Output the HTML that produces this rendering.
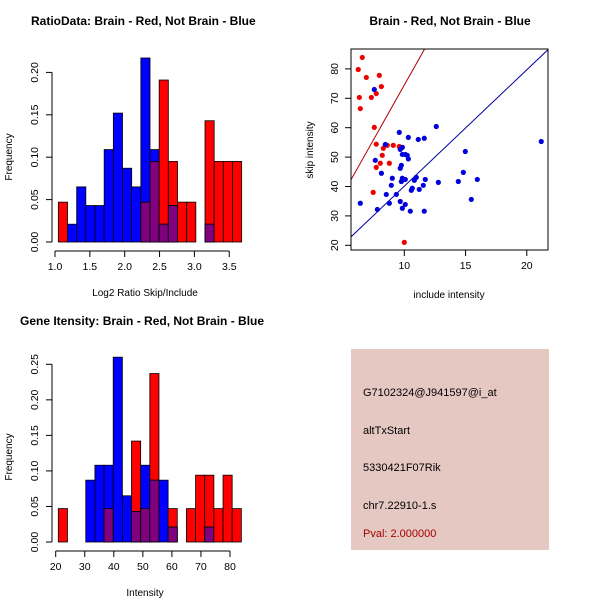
<!DOCTYPE html>
<html><head><meta charset="utf-8"><style>
body{margin:0;background:#fff}
svg{display:block;font-family:"Liberation Sans",sans-serif}
</style></head><body>
<svg id="s" width="600" height="600" xmlns="http://www.w3.org/2000/svg">
<rect width="600" height="600" fill="#fff"/>
<g>
<rect x="351" y="349" width="198" height="201" fill="#e6c8c2"/>
<text x="363" y="396" font-size="11">G7102324@J941597@i_at</text>
<text x="363" y="434" font-size="11">altTxStart</text>
<text x="363" y="471" font-size="11">5330421F07Rik</text>
<text x="363" y="509" font-size="11">chr7.22910-1.s</text>
<text x="363" y="537" font-size="11" fill="#a00000">Pval: 2.000000</text>
</g>
</svg>
<script>
// Histogram 1 (ratio)
const h1Start = 1.048, h1Width = 0.1315;
const h1Red  = [0.047,0,0,0,0,0,0,0,0,0.047,0.095,0.191,0.095,0.047,0.047,0,0.143,0.095,0.095,0.095];
const h1Blue = [0,0.021,0.065,0.043,0.043,0.109,0.152,0.087,0.065,0.217,0.109,0.021,0.043,0,0,0,0.021,0,0,0];
const h1XTicks = [1.0,1.5,2.0,2.5,3.0,3.5];
const h1YTicks = [0,0.05,0.10,0.15,0.20];
// Histogram 2 (intensity)
const h2Start = 20.9, h2Width = 3.15;
const h2Red  = [0.047,0,0,0,0,0.047,0,0,0.142,0.047,0.237,0,0.047,0,0.047,0.094,0.094,0.047,0.094,0.047];
const h2Blue = [0,0,0,0.087,0.108,0.108,0.26,0.065,0.043,0.108,0.087,0.087,0.021,0,0,0,0.021,0,0,0];
const h2XTicks = [20,30,40,50,60,70,80];
const h2YTicks = [0,0.05,0.10,0.15,0.20,0.25];
// Scatter
const redX = [6.57,6.24,6.9,7.96,8.13,7.71,7.31,6.33,6.41,7.55,7.71,8.29,8.61,9.1,9.59,8.2,8.04,8.78,7.71,7.46,10];
const redY = [83.9,79.8,77.1,77.8,74.0,71.6,70.3,70.3,66.5,60.1,54.4,53.0,54.0,54.0,53.6,50.6,47.9,47.9,46.5,38.0,21.0];
const blueX = [7.55,6.41,8.45,9.59,10.33,11.14,11.63,12.61,21.18,14.98,9.84,9.67,9.84,10.08,10.24,10.33,7.63,9.76,9.67,8.13,9.02,9.84,10.08,10.98,10.82,9.76,11.71,12.78,14.82,14.41,15.96,8.94,10.65,10.57,11.22,11.55,8.53,9.35,15.47,8.78,9.67,10.08,7.8,9.84,10.49,11.63];
const blueY = [73.0,34.3,54.3,58.4,56.7,56.0,56.4,60.4,55.3,51.9,53.3,52.6,50.9,50.9,50.6,49.4,48.9,47.2,46.2,44.5,42.8,42.8,42.4,43.1,42.1,41.7,42.4,41.4,44.8,41.7,42.4,40.4,39.4,38.7,39.0,40.4,37.3,37.3,35.6,34.3,34.9,33.9,32.2,32.6,31.6,31.6];
const lineSlopes = [7.4, 3.96];
const lineIntercepts = [0.5, 0.5];
const scXTicks = [10,15,20];
const scYTicks = [20,30,40,50,60,70,80];

const NS="http://www.w3.org/2000/svg", svg=document.getElementById('s');
function mk(tag,at,parent){const e=document.createElementNS(NS,tag);for(const k in at)e.setAttribute(k,at[k]);(parent||svg).appendChild(e);return e;}
function txt(x,y,s,size,extra,parent){const t=mk('text',Object.assign({x:x,y:y,'font-size':size,'text-anchor':'middle'},extra||{}),parent);t.textContent=s;return t;}

function hist(name,start,width,red,blue,xt,yt,xs,ys,axY,title,titleX,xlab){
  const g=mk('g',{});
  
  
  for(let i=0;i<red.length;i++){
    const x0=xs(start+i*width), x1=xs(start+(i+1)*width);
    const r=red[i], b=blue[i], m=Math.min(r,b);
    if(r>0){const e=mk('rect',{x:x0,y:ys(r),width:x1-x0,height:ys(0)-ys(r),fill:'#ff0000',stroke:'#000','stroke-width':0.8},g);
      
      }
    if(b>0){const e=mk('rect',{x:x0,y:ys(b),width:x1-x0,height:ys(0)-ys(b),fill:'#0000ff',stroke:'#000','stroke-width':0.8},g);
      
      }
    if(m>0){const e=mk('rect',{x:x0,y:ys(m),width:x1-x0,height:ys(0)-ys(m),fill:'#800080',stroke:'#000','stroke-width':0.8},g);
      
      }
  }
  mk('line',{x1:xs(xt[0]),x2:xs(xt[xt.length-1]),y1:axY,y2:axY,stroke:'#000'},g);
  xt.forEach(v=>{mk('line',{x1:xs(v),x2:xs(v),y1:axY,y2:axY+6,stroke:'#000'},g);txt(xs(v),axY+19,v.toFixed(xt[1]-xt[0]<1?1:0),10.5,{},g);});
  mk('line',{x1:52,x2:52,y1:ys(yt[0]),y2:ys(yt[yt.length-1]),stroke:'#000'},g);
  yt.forEach(v=>{mk('line',{x1:46,x2:52,y1:ys(v),y2:ys(v),stroke:'#000'},g);txt(38,ys(v),v.toFixed(2),10.5,{transform:`rotate(-90 38 ${ys(v)})`},g);});
  const t=txt(titleX,axY-226,title,12,{'font-weight':'bold','text-anchor':'start'},g);
  
  
  txt(145,axY+45,xlab,10,{},g);
  txt(12,ys(0)-85,'Frequency',10,{transform:`rotate(-90 12 ${ys(0)-85})`},g);
}
hist('ratio-histogram',h1Start,h1Width,h1Red,h1Blue,h1XTicks,h1YTicks,
  v=>55+(v-1)*69.7, v=>242-v*848, 251,'RatioData: Brain - Red, Not Brain - Blue',31,'Log2 Ratio Skip/Include');
hist('intensity-histogram',h2Start,h2Width,h2Red,h2Blue,h2XTicks,h2YTicks,
  v=>55.7+(v-20)*2.905, v=>542-v*710.8, 551,'Gene Itensity: Brain - Red, Not Brain - Blue',20,'Intensity');
// Scatter
const sx=v=>404.3+(v-10)*12.25, sy=v=>245.3-(v-20)*2.94;
const L=351,R=548,T=49,B=250;
const sg=mk('g',{});


mk('defs',{}).innerHTML='<clipPath id="cp"><rect x="351" y="49" width="197" height="201"/></clipPath>';
const xmin=(L-404.3)/12.25+10, xmax=(R-404.3)/12.25+10;
const lc=['#b00000','#0000a0'];
lineSlopes.forEach((m,i)=>{const e=mk('line',{x1:sx(xmin),y1:sy(lineIntercepts[i]+m*xmin),x2:sx(xmax),y2:sy(lineIntercepts[i]+m*xmax),stroke:lc[i],'clip-path':'url(#cp)'},sg);
  
  });
redX.forEach((x,i)=>{const c=mk('circle',{cx:sx(x),cy:sy(redY[i]),r:2.6,fill:'#ee0000'},sg);
  
  });
blueX.forEach((x,i)=>{const c=mk('circle',{cx:sx(x),cy:sy(blueY[i]),r:2.6,fill:'#0000dd'},sg);
  
  });
mk('rect',{x:L,y:T,width:R-L,height:B-T,fill:'none',stroke:'#000'},sg);
scXTicks.forEach(v=>{mk('line',{x1:sx(v),x2:sx(v),y1:B,y2:B+6,stroke:'#000'},sg);txt(sx(v),B+19,String(v),10.5,{},sg);});
scYTicks.forEach(v=>{mk('line',{x1:L-6,x2:L,y1:sy(v),y2:sy(v),stroke:'#000'},sg);txt(L-13,sy(v),String(v),10.5,{transform:`rotate(-90 ${L-13} ${sy(v)})`},sg);});
const st=txt(450,25,'Brain - Red, Not Brain - Blue',12,{'font-weight':'bold'},sg);


txt(449,298,'include intensity',10,{},sg);
txt(313,150,'skip intensity',10,{transform:'rotate(-90 313 150)'},sg);
</script>
</body></html>
